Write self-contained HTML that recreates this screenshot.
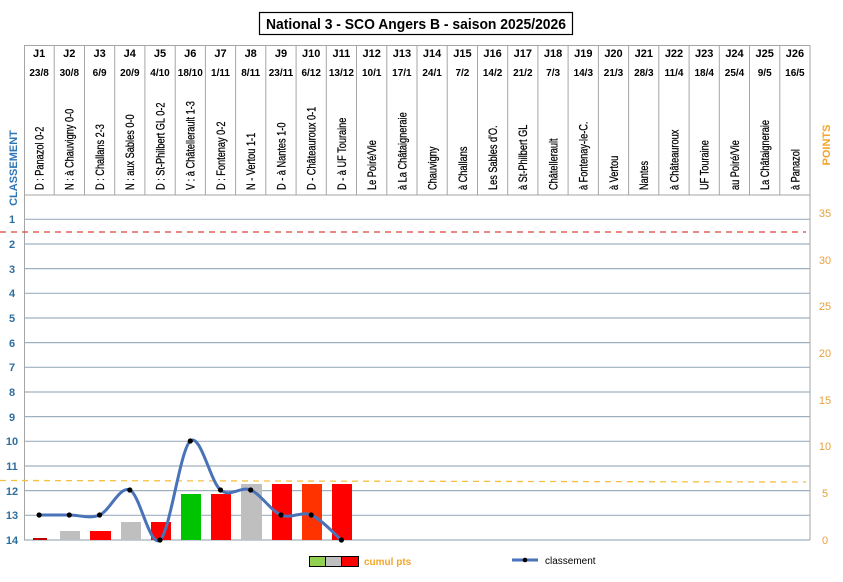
<!DOCTYPE html>
<html><head><meta charset="utf-8"><style>
html,body{margin:0;padding:0;background:#fff;}
svg{display:block;}
text{font-family:"Liberation Sans",Arial,sans-serif;}
</style></head><body>
<svg width="843" height="582" viewBox="0 0 843 582" xmlns="http://www.w3.org/2000/svg">
<rect width="843" height="582" fill="#fff"/>
<!-- title -->
<rect x="259.5" y="12.5" width="313" height="22" fill="#fff" stroke="#000" stroke-width="1.2"/>
<text x="416" y="29" font-size="15" font-weight="bold" text-anchor="middle" fill="#000" textLength="300" lengthAdjust="spacingAndGlyphs">National 3 - SCO Angers B - saison 2025/2026</text>

<!-- header table -->
<g stroke="#a6a6a6" stroke-width="1" fill="none">
<rect x="24.5" y="45.5" width="785.5" height="149.5"/>
<path d="M54.2 45V195M84.5 45V195M114.7 45V195M144.9 45V195M175.2 45V195M205.4 45V195M235.6 45V195M265.8 45V195M296.1 45V195M326.3 45V195M356.5 45V195M386.8 45V195M417 45V195M447.2 45V195M477.5 45V195M507.7 45V195M537.9 45V195M568.1 45V195M598.4 45V195M628.6 45V195M658.8 45V195M689.1 45V195M719.3 45V195M749.5 45V195M779.8 45V195"/>
</g>
<!-- grid -->
<g stroke="#9fb0bf" stroke-width="1.2">
<line x1="24" y1="219.3" x2="810" y2="219.3"/>
<line x1="24" y1="244" x2="810" y2="244"/>
<line x1="24" y1="268.6" x2="810" y2="268.6"/>
<line x1="24" y1="293.3" x2="810" y2="293.3"/>
<line x1="24" y1="318" x2="810" y2="318"/>
<line x1="24" y1="342.6" x2="810" y2="342.6"/>
<line x1="24" y1="367.3" x2="810" y2="367.3"/>
<line x1="24" y1="392" x2="810" y2="392"/>
<line x1="24" y1="416.6" x2="810" y2="416.6"/>
<line x1="24" y1="441.3" x2="810" y2="441.3"/>
<line x1="24" y1="466" x2="810" y2="466"/>
<line x1="24" y1="490.6" x2="810" y2="490.6"/>
<line x1="24" y1="515.3" x2="810" y2="515.3"/>
<line x1="24" y1="540" x2="810" y2="540"/>
</g>
<line x1="24.5" y1="195" x2="24.5" y2="540" stroke="#a6a6a6" stroke-width="1"/>
<line x1="810" y1="195" x2="810" y2="540" stroke="#a6a6a6" stroke-width="1"/>

<!-- J labels -->
<g font-size="11" font-weight="bold" fill="#000" text-anchor="middle">
<text x="39.1" y="57">J1</text><text x="69.3" y="57">J2</text><text x="99.6" y="57">J3</text><text x="129.8" y="57">J4</text><text x="160" y="57">J5</text><text x="190.3" y="57">J6</text><text x="220.5" y="57">J7</text><text x="250.7" y="57">J8</text><text x="281" y="57">J9</text><text x="311.2" y="57">J10</text><text x="341.4" y="57">J11</text><text x="371.7" y="57">J12</text><text x="401.9" y="57">J13</text><text x="432.1" y="57">J14</text><text x="462.4" y="57">J15</text><text x="492.6" y="57">J16</text><text x="522.8" y="57">J17</text><text x="553.1" y="57">J18</text><text x="583.3" y="57">J19</text><text x="613.5" y="57">J20</text><text x="643.8" y="57">J21</text><text x="674" y="57">J22</text><text x="704.2" y="57">J23</text><text x="734.5" y="57">J24</text><text x="764.7" y="57">J25</text><text x="794.9" y="57">J26</text>
</g>
<g font-size="10" font-weight="bold" fill="#000" text-anchor="middle">
<text x="39.1" y="76">23/8</text><text x="69.3" y="76">30/8</text><text x="99.6" y="76">6/9</text><text x="129.8" y="76">20/9</text><text x="160" y="76">4/10</text><text x="190.3" y="76">18/10</text><text x="220.5" y="76">1/11</text><text x="250.7" y="76">8/11</text><text x="281" y="76">23/11</text><text x="311.2" y="76">6/12</text><text x="341.4" y="76">13/12</text><text x="371.7" y="76">10/1</text><text x="401.9" y="76">17/1</text><text x="432.1" y="76">24/1</text><text x="462.4" y="76">7/2</text><text x="492.6" y="76">14/2</text><text x="522.8" y="76">21/2</text><text x="553.1" y="76">7/3</text><text x="583.3" y="76">14/3</text><text x="613.5" y="76">21/3</text><text x="643.8" y="76">28/3</text><text x="674" y="76">11/4</text><text x="704.2" y="76">18/4</text><text x="734.5" y="76">25/4</text><text x="764.7" y="76">9/5</text><text x="794.9" y="76">16/5</text>
</g>
<!-- rotated match labels -->
<g font-size="11.5" fill="#000" stroke="#000" stroke-width="0.25">
<text transform="translate(43.5,190) rotate(-90) scale(0.8,1)">D : Panazol 0-2</text>
<text transform="translate(73.7,190) rotate(-90) scale(0.8,1)">N : à Chauvigny 0-0</text>
<text transform="translate(104,190) rotate(-90) scale(0.8,1)">D : Challans 2-3</text>
<text transform="translate(134.2,190) rotate(-90) scale(0.8,1)">N : aux Sables 0-0</text>
<text transform="translate(164.4,190) rotate(-90) scale(0.8,1)">D : St-Philbert GL 0-2</text>
<text transform="translate(194.7,190) rotate(-90) scale(0.8,1)">V : à Châtellerault 1-3</text>
<text transform="translate(224.9,190) rotate(-90) scale(0.8,1)">D : Fontenay 0-2</text>
<text transform="translate(255.1,190) rotate(-90) scale(0.8,1)">N - Vertou 1-1</text>
<text transform="translate(285.4,190) rotate(-90) scale(0.8,1)">D - à Nantes 1-0</text>
<text transform="translate(315.6,190) rotate(-90) scale(0.8,1)">D - Châteauroux 0-1</text>
<text transform="translate(345.8,190) rotate(-90) scale(0.8,1)">D - à UF Touraine</text>
<text transform="translate(376.1,190) rotate(-90) scale(0.8,1)">Le Poiré/Vie</text>
<text transform="translate(406.3,190) rotate(-90) scale(0.8,1)">à La Châtaigneraie</text>
<text transform="translate(436.5,190) rotate(-90) scale(0.8,1)">Chauvigny</text>
<text transform="translate(466.8,190) rotate(-90) scale(0.8,1)">à Challans</text>
<text transform="translate(497,190) rotate(-90) scale(0.8,1)">Les Sables d'O.</text>
<text transform="translate(527.2,190) rotate(-90) scale(0.8,1)">à St-Philbert GL</text>
<text transform="translate(557.5,190) rotate(-90) scale(0.8,1)">Châtellerault</text>
<text transform="translate(587.7,190) rotate(-90) scale(0.8,1)">à Fontenay-le-C.</text>
<text transform="translate(617.9,190) rotate(-90) scale(0.8,1)">à Vertou</text>
<text transform="translate(648.2,190) rotate(-90) scale(0.8,1)">Nantes</text>
<text transform="translate(678.4,190) rotate(-90) scale(0.8,1)">à Châteauroux</text>
<text transform="translate(708.6,190) rotate(-90) scale(0.8,1)">UF Touraine</text>
<text transform="translate(738.9,190) rotate(-90) scale(0.8,1)">au Poiré/Vie</text>
<text transform="translate(769.1,190) rotate(-90) scale(0.8,1)">La Châtaigneraie</text>
<text transform="translate(799.3,190) rotate(-90) scale(0.8,1)">à Panazol</text>
</g>

<!-- axis titles -->
<text transform="translate(17,168) rotate(-90)" font-size="11" font-weight="bold" fill="#2e75b6" text-anchor="middle">CLASSEMENT</text>
<text transform="translate(830,145) rotate(-90)" font-size="11" font-weight="bold" fill="#f4a52b" text-anchor="middle">POINTS</text>

<!-- left labels -->
<g font-size="11" font-weight="bold" fill="#2e6e9e" text-anchor="middle">
<text x="12" y="223">1</text><text x="12" y="248">2</text><text x="12" y="273">3</text><text x="12" y="297">4</text><text x="12" y="322">5</text><text x="12" y="347">6</text><text x="12" y="371">7</text><text x="12" y="396">8</text><text x="12" y="421">9</text><text x="12" y="445">10</text><text x="12" y="470">11</text><text x="12" y="495">12</text><text x="12" y="519">13</text><text x="12" y="544">14</text>
</g>
<!-- right labels -->
<g font-size="11" fill="#e8a040" text-anchor="middle">
<text x="825" y="217">35</text><text x="825" y="264">30</text><text x="825" y="310">25</text><text x="825" y="357">20</text><text x="825" y="404">15</text><text x="825" y="450">10</text><text x="825" y="497">5</text><text x="825" y="544">0</text>
</g>

<!-- dashed lines -->
<line x1="0" y1="232" x2="806" y2="232" stroke="#e0403a" stroke-width="1.3" stroke-dasharray="6,5"/>
<line x1="0" y1="480.5" x2="806" y2="482" stroke="#f5c040" stroke-width="1.3" stroke-dasharray="6,5"/>

<!-- bars -->
<rect x="33" y="538" width="14" height="2" fill="#c00000"/>
<rect x="60" y="531" width="20" height="9" fill="#bfbfbf"/>
<rect x="90" y="531" width="21" height="9" fill="#ff0000"/>
<rect x="121" y="522" width="20" height="18" fill="#bfbfbf"/>
<rect x="151" y="522" width="20" height="18" fill="#ff0000"/>
<rect x="181" y="494" width="20" height="46" fill="#00c400"/>
<rect x="211" y="494" width="20" height="46" fill="#ff0000"/>
<rect x="241" y="484" width="21" height="56" fill="#bfbfbf"/>
<rect x="272" y="484" width="20" height="56" fill="#ff0000"/>
<rect x="302" y="484" width="20" height="56" fill="#ff3300"/>
<rect x="332" y="484" width="20" height="56" fill="#ff0000"/>

<!-- classement line -->
<path d="M39.1 515 C44.1 515 59.2 515 69.3 515 C79.4 515 89.5 519.2 99.6 515 C109.7 510.8 119.7 485.8 129.8 490 C139.9 494.2 149.9 548.2 160 540 C170.1 531.8 180.2 449.3 190.3 441 C200.4 432.7 210.4 481.8 220.5 490 C230.6 498.2 240.6 485.8 250.7 490 C260.8 494.2 270.9 510.8 281 515 C291.1 519.2 301.1 510.8 311.2 515 C321.3 519.2 336.4 535.8 341.4 540" fill="none" stroke="#4a72b8" stroke-width="3"/>
<g fill="#000">
<circle cx="39.1" cy="515" r="2.6"/><circle cx="69.3" cy="515" r="2.6"/><circle cx="99.6" cy="515" r="2.6"/><circle cx="129.8" cy="490" r="2.6"/><circle cx="160" cy="540" r="2.6"/><circle cx="190.3" cy="441" r="2.6"/><circle cx="220.5" cy="490" r="2.6"/><circle cx="250.7" cy="490" r="2.6"/><circle cx="281" cy="515" r="2.6"/><circle cx="311.2" cy="515" r="2.6"/><circle cx="341.4" cy="540" r="2.6"/>
</g>

<!-- legend -->
<rect x="309.5" y="556.5" width="16" height="10" fill="#92d050" stroke="#000"/>
<rect x="325.5" y="556.5" width="16" height="10" fill="#bfbfbf" stroke="#000"/>
<rect x="341.5" y="556.5" width="17" height="10" fill="#ff0000" stroke="#000"/>
<text x="364" y="565" font-size="10" font-weight="bold" fill="#f4a52b">cumul pts</text>
<line x1="512" y1="560" x2="538" y2="560" stroke="#4a72b8" stroke-width="3"/>
<circle cx="525" cy="560" r="2.3" fill="#000"/>
<text x="545" y="564" font-size="10" fill="#000">classement</text>
</svg>
</body></html>
